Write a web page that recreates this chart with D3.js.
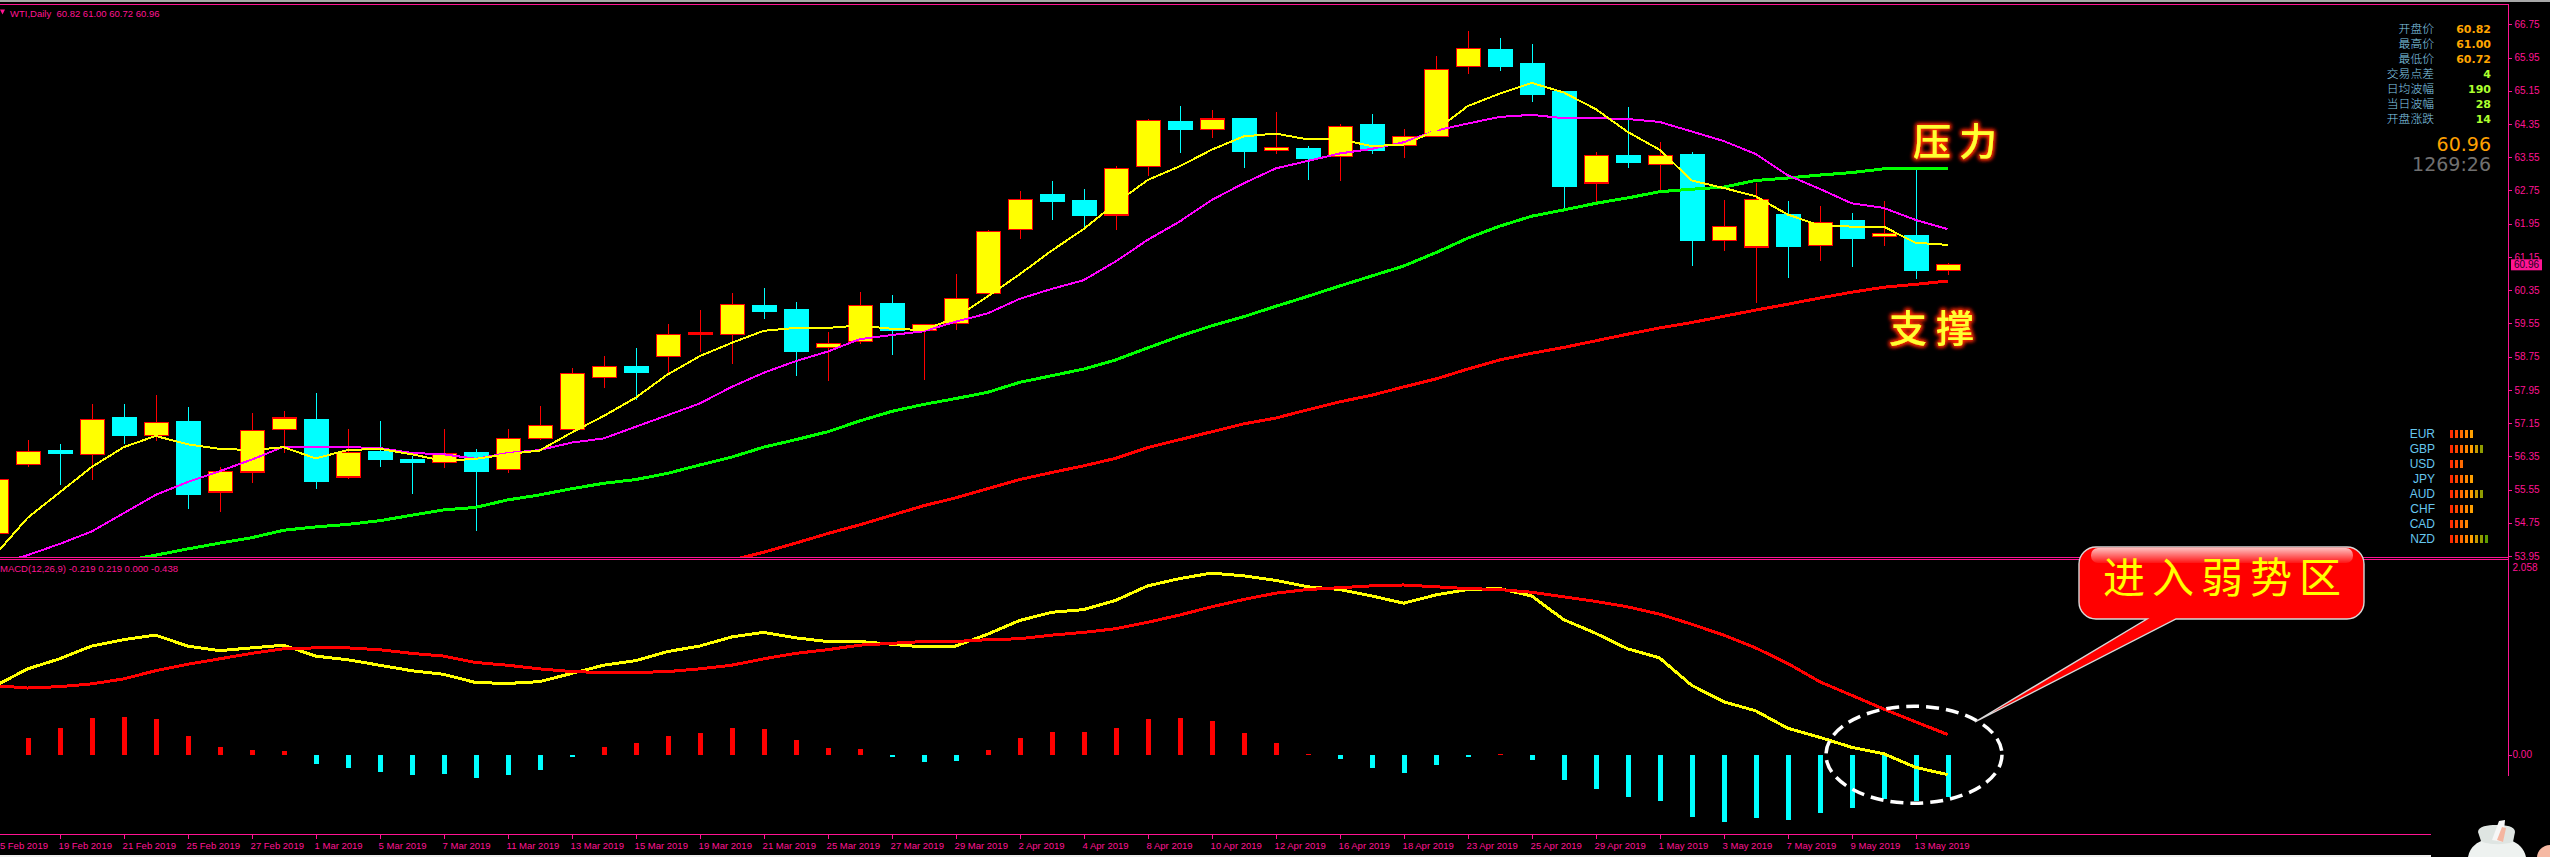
<!DOCTYPE html>
<html><head><meta charset="utf-8">
<style>
html,body{margin:0;padding:0;background:#000;overflow:hidden}
svg{display:block}
text{font-family:"Liberation Sans",Arial,sans-serif}
.cjk{font-family:"Noto Sans CJK SC",sans-serif}
</style>
<script src="https://cdn.jsdelivr.net/npm/d3@7/dist/d3.min.js"></script>
</head><body>
<svg id="c" width="2550" height="857"></svg>
<script>
// ---------- data (first entry = the cut-off bar of 15 Feb 2019, last = 14 May 2019) ----------
const open = [54.50,56.16,56.48,56.40,57.27,56.85,57.18,55.49,55.97,57.00,57.23,55.85,56.46,56.26,56.21,56.43,56.04,56.78,57.00,58.25,58.50,58.76,59.28,59.29,59.99,59.87,58.97,59.12,60.02,59.37,59.54,60.26,61.81,62.65,62.50,62.16,63.33,64.40,64.22,64.47,63.71,63.75,63.57,64.33,63.84,64.05,65.73,66.15,65.80,65.12,62.93,63.58,63.38,63.61,61.55,61.39,62.16,61.42,62.02,61.65,61.66,60.82];
const close = [55.80,56.47,56.41,57.24,56.85,57.17,55.43,55.99,56.98,57.27,55.74,56.45,56.27,56.20,56.42,55.98,56.78,57.09,58.35,58.51,58.36,59.28,59.32,60.00,59.85,58.87,59.07,59.99,59.39,59.53,60.14,61.77,62.54,62.48,62.16,63.28,64.44,64.23,64.47,63.70,63.79,63.53,64.29,63.72,64.05,65.66,66.17,65.74,65.07,62.84,63.60,63.42,63.60,61.54,61.88,62.53,61.41,61.98,61.59,61.72,60.82,60.96];
const high = [55.95,56.75,56.65,57.61,57.61,57.82,57.54,56.09,57.40,57.44,57.88,57.01,57.20,56.36,57.01,56.53,57.01,57.56,58.48,58.76,58.95,59.54,59.87,60.29,60.41,60.06,59.34,60.31,60.23,59.53,60.74,61.80,62.74,62.98,62.79,63.34,64.47,64.78,64.68,64.47,64.64,63.82,64.35,64.59,64.23,65.99,66.59,66.42,66.28,65.12,63.68,64.76,63.91,63.68,62.52,62.92,62.50,62.37,62.20,62.50,63.27,61.00];
const low = [54.30,56.09,55.66,55.79,56.64,56.73,55.09,55.02,55.71,56.44,55.57,55.81,56.09,55.45,56.08,54.54,55.96,56.75,56.99,58.00,57.71,58.35,58.87,58.57,59.65,58.29,58.17,59.05,58.79,58.19,59.39,60.23,61.59,62.04,61.87,61.80,63.09,63.65,64.01,63.29,63.63,63.00,62.98,63.63,63.53,64.05,65.55,65.63,64.88,62.30,62.47,63.29,62.74,60.93,61.30,60.03,60.64,61.06,60.91,61.41,60.62,60.72];
const maFast = [53.99,54.87,55.48,56.09,56.57,56.84,56.64,56.53,56.50,56.57,56.30,56.50,56.53,56.40,56.24,56.29,56.40,56.49,56.92,57.32,57.76,58.32,58.76,59.08,59.37,59.44,59.44,59.50,59.42,59.39,59.68,60.20,60.73,61.30,61.82,62.44,63.00,63.33,63.73,64.05,64.12,63.98,63.98,63.82,63.85,64.19,64.78,65.08,65.34,65.11,64.71,64.16,63.73,62.99,62.81,62.61,62.17,61.91,61.88,61.88,61.49,61.44];
const maMid = [53.75,53.97,54.24,54.54,54.98,55.42,55.73,55.99,56.27,56.58,56.58,56.57,56.55,56.43,56.40,56.29,56.43,56.50,56.68,56.78,57.06,57.34,57.62,58.02,58.36,58.64,58.87,59.17,59.27,59.36,59.59,59.79,60.14,60.38,60.59,61.04,61.56,62.00,62.52,62.92,63.28,63.46,63.64,63.75,63.91,64.19,64.36,64.52,64.57,64.49,64.49,64.47,64.40,64.17,63.94,63.63,63.12,62.79,62.44,62.33,62.04,61.82];
const maSlow = [null,null,null,null,53.83,53.97,54.12,54.26,54.39,54.57,54.65,54.71,54.80,54.93,55.06,55.12,55.30,55.42,55.57,55.70,55.79,55.94,56.14,56.33,56.57,56.75,56.94,57.20,57.43,57.60,57.74,57.89,58.13,58.29,58.45,58.67,58.96,59.24,59.49,59.71,59.96,60.20,60.45,60.69,60.93,61.25,61.60,61.89,62.13,62.28,62.44,62.57,62.72,62.78,62.83,62.99,63.05,63.12,63.18,63.27,63.29,63.27];
const maLong = [null,null,null,null,null,null,null,null,null,null,null,null,null,null,null,null,null,null,null,null,null,null,null,53.85,54.04,54.26,54.49,54.70,54.93,55.16,55.35,55.57,55.79,55.96,56.12,56.30,56.56,56.75,56.94,57.13,57.27,57.47,57.66,57.82,58.02,58.21,58.45,58.67,58.83,58.97,59.13,59.29,59.44,59.57,59.72,59.87,60.01,60.16,60.30,60.42,60.49,60.57];
const macdMain = [0.756,0.94,1.05,1.19,1.26,1.31,1.19,1.14,1.17,1.20,1.08,1.04,0.98,0.92,0.88,0.79,0.78,0.80,0.89,0.98,1.03,1.13,1.19,1.29,1.34,1.28,1.24,1.24,1.21,1.18,1.19,1.32,1.47,1.56,1.59,1.69,1.85,1.93,1.99,1.96,1.91,1.84,1.81,1.74,1.66,1.75,1.81,1.82,1.74,1.48,1.33,1.16,1.06,0.76,0.58,0.48,0.29,0.19,0.08,0.01,-0.14,-0.22];
const macdSignal = [0.756,0.73,0.745,0.775,0.83,0.92,0.99,1.05,1.11,1.16,1.17,1.17,1.15,1.11,1.08,1.01,0.98,0.94,0.91,0.90,0.90,0.91,0.94,0.98,1.05,1.11,1.15,1.20,1.22,1.24,1.24,1.26,1.27,1.31,1.34,1.38,1.45,1.53,1.62,1.70,1.77,1.81,1.83,1.85,1.86,1.84,1.82,1.81,1.78,1.73,1.68,1.62,1.54,1.43,1.31,1.17,1.00,0.80,0.65,0.50,0.36,0.22];
const macdHist = [null,0.187,0.297,0.396,0.407,0.385,0.209,0.088,0.055,0.044,-0.099,-0.143,-0.187,-0.22,-0.209,-0.253,-0.22,-0.165,-0.022,0.088,0.132,0.209,0.242,0.297,0.286,0.165,0.077,0.066,-0.022,-0.077,-0.066,0.055,0.187,0.253,0.253,0.297,0.385,0.396,0.363,0.242,0.132,0.007,-0.044,-0.143,-0.198,-0.11,-0.022,0.007,-0.055,-0.275,-0.374,-0.463,-0.507,-0.683,-0.742,-0.698,-0.713,-0.636,-0.588,-0.49,-0.512,-0.468];
const dateLabels = ["15 Feb 2019","19 Feb 2019","21 Feb 2019","25 Feb 2019","27 Feb 2019","1 Mar 2019","5 Mar 2019","7 Mar 2019","11 Mar 2019","13 Mar 2019","15 Mar 2019","19 Mar 2019","21 Mar 2019","25 Mar 2019","27 Mar 2019","29 Mar 2019","2 Apr 2019","4 Apr 2019","8 Apr 2019","10 Apr 2019","12 Apr 2019","16 Apr 2019","18 Apr 2019","23 Apr 2019","25 Apr 2019","29 Apr 2019","1 May 2019","3 May 2019","7 May 2019","9 May 2019","13 May 2019"];
const priceTicks = [66.75,65.95,65.15,64.35,63.55,62.75,61.95,61.15,60.35,59.55,58.75,57.95,57.15,56.35,55.55,54.75,53.95];
const macdTicks = [2.058,0.00];
const infoLabels = ["开盘价","最高价","最低价","交易点差","日均波幅","当日波幅","开盘涨跌"];
const infoValues = ["60.82","61.00","60.72","4","190","28","14"];
const currencies = ["EUR","GBP","USD","JPY","AUD","CHF","CAD","NZD"];
const currencyStrength = [5,7,3,5,7,5,4,8];
const strengthColors = ["#ff2a00","#ff4a00","#ff6a00","#ff8800","#ffa000","#c89a00","#8f9c00","#5f9c00"];

// ---------- layout ----------
const pink = "#ff1493";
const svg = d3.select("#c");
const defs = svg.append("defs");
const x = d3.scaleLinear().domain([0,61]).range([-4.4,1947.6]);
const y = d3.scaleLinear().domain([53.95,66.75]).range([556,24.3]);
const yM = d3.scaleLinear().domain([0,2.058]).range([754.6,566.9]);
defs.append("clipPath").attr("id","p1").append("rect").attr("x",0).attr("y",5).attr("width",2508).attr("height",552);
defs.append("clipPath").attr("id","p2").append("rect").attr("x",0).attr("y",560).attr("width",2508).attr("height",274);

const gl = defs.append("filter").attr("id","glow").attr("x","-30%").attr("y","-30%").attr("width","160%").attr("height","160%");
gl.append("feMorphology").attr("in","SourceAlpha").attr("operator","dilate").attr("radius",1).attr("result","d");
gl.append("feGaussianBlur").attr("in","d").attr("stdDeviation",2).attr("result","b");
gl.append("feFlood").attr("flood-color","#ff2a00");
gl.append("feComposite").attr("in2","b").attr("operator","in").attr("result","g");
const gm = gl.append("feMerge");
gm.append("feMergeNode").attr("in","g");
gm.append("feMergeNode").attr("in","g");
gm.append("feMergeNode").attr("in","SourceGraphic");
const gloss = defs.append("linearGradient").attr("id","gloss").attr("x1",0).attr("x2",0).attr("y1",0).attr("y2",1);
gloss.append("stop").attr("offset",0).attr("stop-color","#fff").attr("stop-opacity",0.75);
gloss.append("stop").attr("offset",1).attr("stop-color","#fff").attr("stop-opacity",0.08);

svg.append("rect").attr("width",2550).attr("height",857).attr("fill","#000");
svg.append("rect").attr("width",2550).attr("height",2).attr("fill","#a8a8a8");
svg.append("rect").attr("y",855).attr("width",2431).attr("height",2).attr("fill","#f0f0f0");

// frame
const frame = [[0,4.5,2508.5,4.5],[0,557.5,2508.5,557.5],[0,559.5,2508.5,559.5],[0,834.5,2431,834.5],[2508.5,4.5,2508.5,775.5]];
svg.append("g").selectAll("line").data(frame).join("line")
  .attr("x1",d=>d[0]).attr("y1",d=>d[1]).attr("x2",d=>d[2]).attr("y2",d=>d[3])
  .attr("stroke",pink).attr("stroke-width",1).attr("shape-rendering","crispEdges");

// ---------- candles ----------
const p1 = svg.append("g").attr("clip-path","url(#p1)");
const bars = d3.range(open.length).map(i=>({i,o:open[i],c:close[i],h:high[i],l:low[i],up:close[i]>=open[i]}));
p1.append("g").selectAll("line").data(bars).join("line")
  .attr("x1",d=>Math.round(x(d.i))+.5).attr("x2",d=>Math.round(x(d.i))+.5)
  .attr("y1",d=>y(d.h)).attr("y2",d=>y(d.l))
  .attr("stroke",d=>d.up?"#ff0000":"#00ffff").attr("stroke-width",1).attr("shape-rendering","crispEdges");
p1.append("g").selectAll("rect").data(bars).join("rect")
  .attr("x",d=>Math.round(x(d.i))-11.5).attr("width",24)
  .attr("y",d=>y(Math.max(d.o,d.c))).attr("height",d=>Math.max(1,y(Math.min(d.o,d.c))-y(Math.max(d.o,d.c))))
  .attr("fill",d=>d.up?"#ffff00":"#00ffff")
  .attr("stroke",d=>d.up?"#ff0000":"#00ffff").attr("stroke-width",1.2).attr("shape-rendering","crispEdges");

// ---------- moving averages ----------
const line = sy => d3.line().defined(v=>v!==null).x((v,i)=>x(i)).y(v=>sy(v));
[[maLong,"#ff0000",3],[maSlow,"#00ff00",3],[maMid,"#ff00ff",2],[maFast,"#ffff00",2]].forEach(([s,c,w])=>{
  p1.append("path").datum(s).attr("fill","none").attr("stroke",c).attr("stroke-width",w)
    .attr("shape-rendering","crispEdges").attr("d",line(y));
});

// ---------- MACD ----------
const p2 = svg.append("g").attr("clip-path","url(#p2)");
p2.append("g").selectAll("rect").data(macdHist.map((v,i)=>({v,i})).filter(d=>d.v!==null)).join("rect")
  .attr("x",d=>Math.round(x(d.i))-2.5).attr("width",5)
  .attr("y",d=>Math.min(yM(d.v),yM(0))).attr("height",d=>Math.max(1,Math.abs(yM(d.v)-yM(0))))
  .attr("fill",d=>d.v>=0?"#ff0000":"#00ffff").attr("shape-rendering","crispEdges");
[[macdMain,"#ffff00"],[macdSignal,"#ff0000"]].forEach(([s,c])=>{
  p2.append("path").datum(s).attr("fill","none").attr("stroke",c).attr("stroke-width",3)
    .attr("shape-rendering","crispEdges").attr("d",line(yM));
});

// ---------- axes ----------
const ax1 = svg.append("g").attr("transform","translate(2508.5,0)")
  .call(d3.axisRight(y).tickValues(priceTicks).tickFormat(d3.format(".2f")).tickSize(3).tickPadding(3));
const ax2 = svg.append("g").attr("transform","translate(2508.5,0)")
  .call(d3.axisRight(yM).tickValues(macdTicks).tickFormat(v=>v===0?"0.00":"2.058").tickSize(3).tickPadding(1));
const ax3 = svg.append("g").attr("transform","translate(0,834.5)")
  .call(d3.axisBottom(x).tickValues(dateLabels.map((d,i)=>i*2)).tickFormat((d,i)=>dateLabels[i]).tickSize(4).tickPadding(4));
[ax1,ax2,ax3].forEach(a=>{
  a.select(".domain").remove();
  a.attr("font-family",null).attr("font-size",null);
  a.selectAll("line").attr("stroke",pink).attr("shape-rendering","crispEdges");
  a.selectAll("text").attr("fill",pink).style("font-size","10px").style("font-family",'"Liberation Sans",sans-serif');
});
ax2.selectAll(".tick").filter(d=>d!==0).select("line").remove();
ax3.selectAll("text").attr("text-anchor","start").attr("x",-1.5).style("font-size","9.5px");

// price tag
const tagY = y(60.96);
svg.append("rect").attr("x",2511).attr("y",tagY-5.5).attr("width",31).attr("height",11).attr("fill",pink);
svg.append("text").attr("x",2514).attr("y",tagY+3.6).attr("font-size",10).attr("fill","#200020").text("60.96");

// ---------- header labels ----------
svg.append("path").attr("d","M0 9.5L5 9.5L2.5 14.5Z").attr("fill",pink);
svg.append("text").attr("x",10).attr("y",16.5).attr("font-size",9.5).attr("fill",pink).attr("xml:space","preserve").text("WTI,Daily  60.82 61.00 60.72 60.96");
svg.append("text").attr("x",0).attr("y",572).attr("font-size",9.5).attr("fill",pink).text("MACD(12,26,9) -0.219 0.219 0.000 -0.438");

// ---------- info panel ----------
infoLabels.forEach((t,i)=>{
  const yy = 28.7+15*i;
  svg.append("text").attr("class","cjk").attr("x",2434).attr("y",yy+4.5).attr("text-anchor","end")
    .attr("font-size",11.8).attr("font-weight",300).attr("fill","#87ceeb").text(t);
  svg.append("text").attr("x",2491).attr("y",yy+4.2).attr("text-anchor","end")
    .style("font-family",'"DejaVu Sans",sans-serif').attr("font-size",11).attr("font-weight",700)
    .attr("fill",i<3?"#ffa500":"#adff2f").text(infoValues[i]);
});
svg.append("text").attr("x",2491).attr("y",151).attr("text-anchor","end").style("font-family",'"DejaVu Sans",sans-serif').attr("font-size",19).attr("fill","#ffa000").text("60.96");
svg.append("text").attr("x",2491).attr("y",171).attr("text-anchor","end").style("font-family",'"DejaVu Sans",sans-serif').attr("font-size",19).attr("fill","#707070").text("1269:26");

// ---------- currency strength ----------
currencies.forEach((c,i)=>{
  const yy = 434+15*i;
  svg.append("text").attr("x",2435).attr("y",yy+4.4).attr("text-anchor","end").attr("font-size",12).attr("fill","#66c6ee").text(c);
  svg.append("g").selectAll("rect").data(d3.range(currencyStrength[i])).join("rect")
    .attr("x",k=>2450+5*k).attr("y",yy-4).attr("width",3.4).attr("height",8)
    .attr("fill",k=>strengthColors[k]).attr("shape-rendering","crispEdges");
});

// ---------- annotations ----------
svg.append("text").attr("class","cjk").attr("x",1913).attr("y",155).attr("font-size",38).attr("font-weight",500)
  .attr("letter-spacing",8).attr("fill","#ffff30").attr("filter","url(#glow)").text("压力");
svg.append("text").attr("class","cjk").attr("x",1889).attr("y",342).attr("font-size",38).attr("font-weight",500)
  .attr("letter-spacing",9).attr("fill","#ffff30").attr("filter","url(#glow)").text("支撑");
svg.append("ellipse").attr("cx",1914).attr("cy",754.7).attr("rx",88).attr("ry",48.5)
  .attr("fill","none").attr("stroke","#fff").attr("stroke-width",3.5).attr("stroke-dasharray","13 7");
svg.append("path")
  .attr("d","M2096 547H2347A17 17 0 0 1 2364 564V602A17 17 0 0 1 2347 619H2176L1975 722L2147 619H2096A17 17 0 0 1 2079 602V564A17 17 0 0 1 2096 547Z")
  .attr("fill","#ff0000").attr("stroke","#d8d8d8").attr("stroke-width",1.4);
svg.append("rect").attr("x",2091).attr("y",548).attr("width",262).attr("height",15).attr("rx",7).attr("fill","url(#gloss)");
svg.append("text").attr("class","cjk").attr("x",2103).attr("y",593).attr("font-size",42).attr("font-weight",400)
  .attr("letter-spacing",7).attr("fill","#ffff00").text("进入弱势区");

// ---------- corner mascot ----------
const m = svg.append("g");
m.append("path").attr("d","M2468 857C2470 846 2478 842 2484 840L2510 840C2518 843 2524 848 2526 857Z").attr("fill","#eef2f0");
m.append("path").attr("d","M2478 832C2478 826 2488 825 2496 825C2506 825 2515 826 2515 832L2513 842C2505 845 2487 845 2481 841Z").attr("fill","#dfe5e2");
m.append("path").attr("d","M2492 840L2499 821L2505 820L2503 842Z").attr("fill","#f6f6f6");
m.append("path").attr("d","M2497 840L2502 827L2506 828L2503 842Z").attr("fill","#f4b5a0");
m.append("circle").attr("cx",2550).attr("cy",858).attr("r",13).attr("fill","#f6b9a3");
</script>
</body></html>
